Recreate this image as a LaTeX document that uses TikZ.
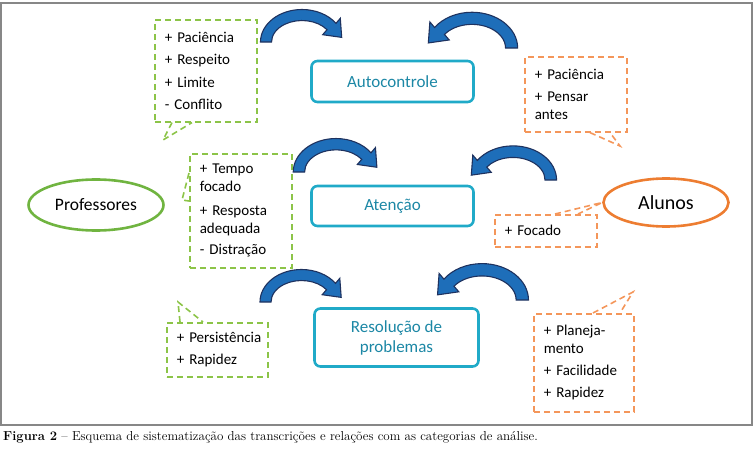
\documentclass[tikz,border=0pt]{standalone}
\usepackage{fontspec}
\usepackage{tikz}
\usetikzlibrary{calc,positioning,shapes.geometric}
\newfontfamily\calibri{Carlito}
\definecolor{boxcyan}{RGB}{32,170,200}
\definecolor{boxtext}{RGB}{28,135,165}
\definecolor{profgreen}{RGB}{112,180,64}
\definecolor{dashgreen}{RGB}{140,196,72}
\definecolor{alunorange}{RGB}{237,125,49}
\definecolor{dashorange}{RGB}{244,150,90}
\definecolor{arrowblue}{RGB}{30,110,185}
\definecolor{arrowedge}{RGB}{30,50,95}
\definecolor{framegray}{RGB}{135,135,135}

\tikzset{
  catbox/.style={draw=boxcyan, line width=2.6pt, rounded corners=6pt, text=boxtext, align=center,
    font=\calibri\fontsize{17}{20}\selectfont},
  actor/.style={ellipse, line width=2.6pt, font=\calibri\fontsize{17.5}{20}\selectfont},
  callout/.style={dashed, dash pattern=on 6pt off 4pt, line width=1.6pt, anchor=north west, align=left,
    inner xsep=10pt, inner ysep=0pt, font=\calibri\fontsize{15}{18}\selectfont},
  tail/.style={dash pattern=on 6pt off 4pt, line width=1.6pt},
  bendarrow/.pic={
    \filldraw[fill=arrowblue, draw=arrowedge, line width=1.1pt, yscale=-1]
      (-41.5,0) arc[start angle=180, end angle=35, x radius=41.5, y radius=32.5]
      -- (38.3,23.7) -- (39.7,4.6) -- (20.7,7.3) -- (25,12.3)
      arc[start angle=35, end angle=180, x radius=30.5, y radius=21.5] -- cycle;
  }
}

\begin{document}
\begin{tikzpicture}[x=1pt, y=-1pt]
  \useasboundingbox (0,0) rectangle (756,449);
  \draw[framegray, line width=1.6pt] (1,3) rectangle (752,425);

  % categorias
  \node[catbox, minimum width=162pt, minimum height=41pt] (auto) at (392.5,81.5) {Autocontrole};
  \node[catbox, minimum width=162pt, minimum height=40pt] (aten) at (392.5,206) {Atenção};
  \node[catbox, minimum width=164pt, minimum height=58pt] (reso) at (396.5,337.5) {Resolução de\\problemas};

  \node[actor, draw=profgreen, minimum width=135pt, minimum height=51pt] (prof) at (96,205) {Professores};
  \node[actor, draw=alunorange, minimum width=125pt, minimum height=48pt,
    font=\calibri\fontsize{20}{22}\selectfont] (alun) at (666,202.5) {Alunos};

  % caixas de professores
  \node[callout, draw=dashgreen, minimum width=102pt, minimum height=102pt, text width=82pt] (profA) at (154,19)
    {+ Paciência\\[4.5pt] + Respeito\\[4.5pt] + Limite\\[4.5pt] - Conflito};
  \node[callout, draw=dashgreen, minimum width=102pt, minimum height=114pt, text width=82pt] (profB) at (189,153)
    {+ Tempo\\ focado\\[6pt] + Resposta\\ adequada\\[3pt] - Distração};
  \node[callout, draw=dashgreen, minimum width=101pt, minimum height=54pt, text width=81pt] (profC) at (166,322)
    {\mbox{+ Persistência}\\[4pt] + Rapidez};

  % caixas de alunos
  \node[callout, draw=dashorange, minimum width=102pt, minimum height=75pt, text width=82pt] (alunA) at (524,56)
    {+ Paciência\\[4pt] + Pensar\\ antes};
  \node[callout, draw=dashorange, minimum width=102pt, minimum height=32pt, text width=82pt] (alunB) at (494,214)
    {+ Focado};
  \node[callout, draw=dashorange, minimum width=100pt, minimum height=98pt, text width=80pt] (alunC) at (533,313)
    {+ Planeja-\\ mento\\[4pt] + Facilidade\\[4pt] + Rapidez};

  \coordinate (tipA) at (163,140);
  \coordinate (tipB) at (182,200);
  \coordinate (tipC) at (178,302);
  \coordinate (tipD) at (620,146);
  \coordinate (tipE) at (633,292);
  \draw[tail, dashgreen] ($(profA.south west)+(18,0)$) -- (tipA) -- ($(profA.south west)+(38,0)$);
  \draw[tail, dashgreen] ($(profB.north west)+(0,20)$) -- (tipB) -- ($(profB.north west)+(0,48)$);
  \draw[tail, dashgreen] ($(profC.north west)+(14,0)$) -- (tipC) -- ($(profC.north west)+(37,0)$);
  \draw[tail, dashorange] ($(alunA.south west)+(66,0)$) -- (tipD) -- ($(alunA.south west)+(86,0)$);
  \draw[tail, dashorange] ($(alunB.north west)+(61,0)$) -- (alun.west) -- ($(alunB.north west)+(84,0)$);
  \draw[tail, dashorange] ($(alunC.north west)+(60,0)$) -- (tipE) -- ($(alunC.north west)+(87,0)$);

  % setas curvas
  \pic at (302,42) {bendarrow};
  \pic[xscale=-1, scale=1.1] at (472,48) {bendarrow};
  \pic[scale=1.03] at (336,172) {bendarrow};
  \pic[xscale=-1, scale=1.05] at (513,180) {bendarrow};
  \pic at (301.5,302) {bendarrow};
  \pic[xscale=-1, scale=1.12] at (482,300) {bendarrow};

  \node[anchor=base west, inner sep=0pt, font=\fontsize{13}{15}\selectfont] (capt) at (3,441)
    {\textbf{Figura 2} -- Esquema de sistematização das transcrições e relações com as categorias de análise.};
\end{tikzpicture}
\end{document}
